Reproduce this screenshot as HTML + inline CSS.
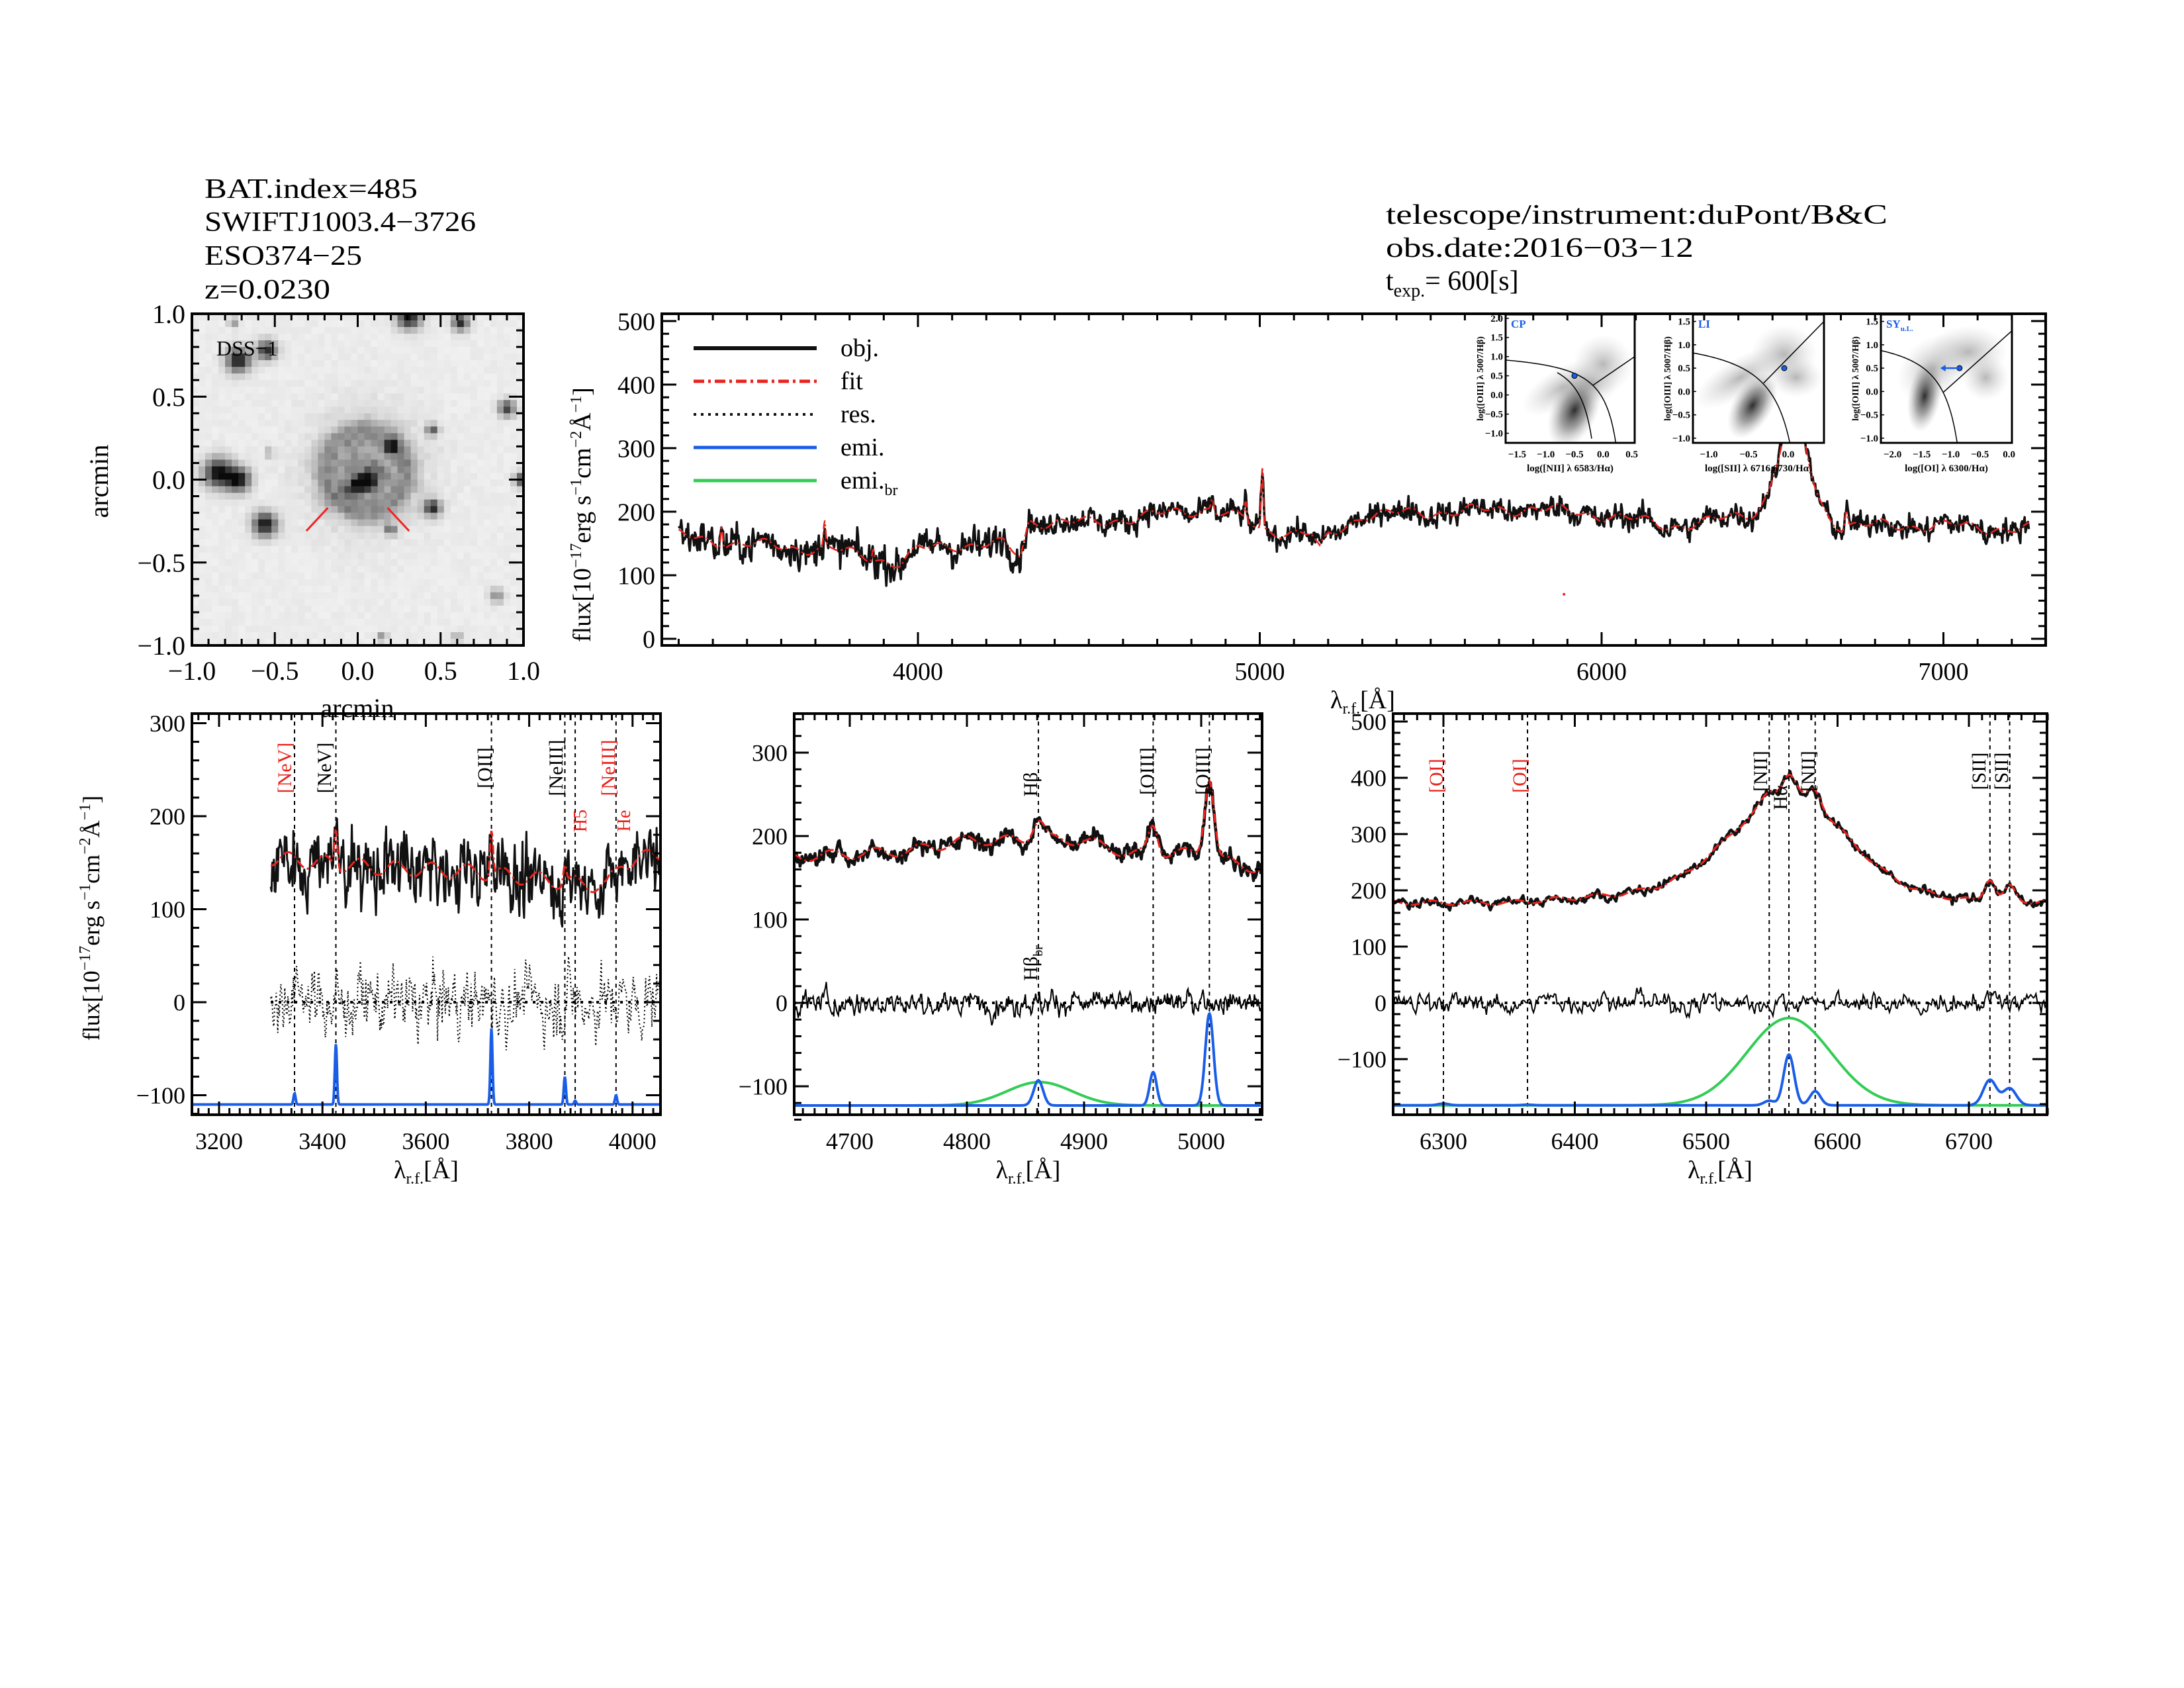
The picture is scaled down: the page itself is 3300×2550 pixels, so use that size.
<!DOCTYPE html>
<html><head><meta charset="utf-8"><style>
html,body{margin:0;padding:0;background:#fff}
svg{display:block}
text{font-family:"Liberation Serif",serif;fill:#000}
</style></head><body>
<svg id="s" xmlns="http://www.w3.org/2000/svg" width="3300" height="2550" viewBox="0 0 3300 2550">
<rect width="3300" height="2550" fill="#fff"/>
<defs>
<radialGradient id="gb"><stop offset="0" stop-color="#222" stop-opacity="0.95"/><stop offset="0.5" stop-color="#666" stop-opacity="0.6"/><stop offset="1" stop-color="#aaa" stop-opacity="0"/></radialGradient>
<radialGradient id="gl"><stop offset="0" stop-color="#999" stop-opacity="0.7"/><stop offset="1" stop-color="#ccc" stop-opacity="0"/></radialGradient>
<clipPath id="cm"><rect x="1000" y="474" width="2091" height="501"/></clipPath>
<clipPath id="c1"><rect x="290" y="1078" width="708" height="606"/></clipPath>
<clipPath id="c2"><rect x="1200" y="1078" width="707" height="606"/></clipPath>
<clipPath id="c3"><rect x="2105" y="1078" width="988" height="606"/></clipPath>
<clipPath id="ci1"><rect x="2275" y="475" width="195" height="194"/></clipPath>
<clipPath id="ci2"><rect x="2558" y="475" width="198" height="194"/></clipPath>
<clipPath id="ci3"><rect x="2842" y="475" width="198" height="194"/></clipPath>
</defs>
<g font-size="42">
<text x="309" y="299" textLength="322" lengthAdjust="spacingAndGlyphs">BAT.index=485</text>
<text x="309" y="349" textLength="410" lengthAdjust="spacingAndGlyphs">SWIFTJ1003.4−3726</text>
<text x="309" y="400" textLength="238" lengthAdjust="spacingAndGlyphs">ESO374−25</text>
<text x="309" y="451" textLength="190" lengthAdjust="spacingAndGlyphs">z=0.0230</text>
<text x="2094" y="338" textLength="758" lengthAdjust="spacingAndGlyphs">telescope/instrument:duPont/B&amp;C</text>
<text x="2094" y="388" textLength="465" lengthAdjust="spacingAndGlyphs">obs.date:2016−03−12</text>
<text x="2094" y="438">t<tspan font-size="28" dy="10">exp.</tspan><tspan dy="-10">=  600[s]</tspan></text>
</g>
<g id="dss"></g>
<g id="main"></g>
<g id="p1"></g><g id="p2"></g><g id="p3"></g>
</svg>
<script>
const NS='http://www.w3.org/2000/svg';
function el(tag,a,p){const e=document.createElementNS(NS,tag);for(const k in a)e.setAttribute(k,a[k]);(p||document.getElementById('s')).appendChild(e);return e;}
function txt(s,a,p){const e=el('text',a,p);e.textContent=s;return e;}
let seed=12345;function rnd(){seed=(seed*1103515245+12345)%2147483648;return seed/2147483648;}
function gauss(){let u=0;for(let i=0;i<4;i++)u+=rnd();return (u-2)*1.7;}
function G(x,m,s){return Math.exp(-0.5*((x-m)/s)**2);}
function pl(pts,x){if(x<=pts[0][0])return pts[0][1];for(let i=1;i<pts.length;i++){if(x<=pts[i][0]){const a=pts[i-1],b=pts[i];return a[1]+(b[1]-a[1])*(x-a[0])/(b[0]-a[0]);}}return pts[pts.length-1][1];}
function pathD(xs,ys){let d='';for(let i=0;i<xs.length;i++)d+=(i?'L':'M')+xs[i].toFixed(1)+' '+ys[i].toFixed(1);return d;}
function axes(g,x0,y0,x1,y1,xm,ym,xt,xmin,xr,yt,ymin,yr,fs,xlab){
  el('rect',{x:x0,y:y0,width:x1-x0,height:y1-y0,fill:'none',stroke:'#000','stroke-width':4},g);
  for(let v=Math.ceil(xr[0]/xmin)*xmin;v<=xr[1];v+=xmin){const X=xm(v);const maj=xt.some(t=>Math.abs(t-v)<1e-6);const L=maj?20:10;
    el('line',{x1:X,y1:y1,x2:X,y2:y1-L,stroke:'#000','stroke-width':3},g);el('line',{x1:X,y1:y0,x2:X,y2:y0+L,stroke:'#000','stroke-width':3},g);}
  for(let v=Math.ceil(yr[0]/ymin)*ymin;v<=yr[1];v+=ymin){const Y=ym(v);const maj=yt.some(t=>Math.abs(t-v)<1e-6);const L=maj?22:11;
    el('line',{x1:x0,y1:Y,x2:x0+L,y2:Y,stroke:'#000','stroke-width':3},g);el('line',{x1:x1,y1:Y,x2:x1-L,y2:Y,stroke:'#000','stroke-width':3},g);}
  if(xlab!==false)xt.forEach(t=>txt(String(t).replace('-','−'),{x:xm(t),y:y1+52,'text-anchor':'middle','font-size':fs},g));
  yt.forEach(t=>txt(String(t).replace('-','−'),{x:x0-10,y:ym(t)+fs*0.35,'text-anchor':'end','font-size':fs},g));
}
/* ---------- DSS ---------- */
(function(){const g=document.getElementById('dss');
 const px=a=>540.5+a*250.5, py=b=>724.5-b*250.5;
 const stars=[[-0.72,0.72,0.05,0.9],[-0.55,0.78,0.04,0.8],[-0.84,0.04,0.06,0.95],[-0.72,0.0,0.05,0.9],[-0.56,-0.27,0.05,0.9],[0.45,-0.17,0.035,0.8],[0.9,0.43,0.035,0.7],[0.45,0.3,0.025,0.6],[0.31,0.98,0.05,0.9],[0.62,0.95,0.035,0.8],[0.2,0.2,0.03,0.7],[0.99,0.0,0.03,0.7],[0.84,-0.7,0.03,0.4],[-0.53,0.16,0.02,0.3],[0.2,-0.3,0.025,0.5],[0.6,-0.95,0.02,0.35],[-0.75,0.95,0.02,0.4],[0.15,-0.95,0.02,0.4]];
 const N=50,cs=501/N;
 for(let i=0;i<N;i++)for(let j=0;j<N;j++){
  const a=-1+(i+0.5)*2/N, b=1-(j+0.5)*2/N;
  let d=0.06+0.035*rnd();
  const r=Math.hypot(a-0.05,b-0.05);
  d+=0.28*Math.exp(-r*r/0.06);
  d+=0.25*Math.exp(-((r-0.25)**2)/0.004);
  const ea=(a-0.03)*Math.cos(0.5)+(b+0.02)*Math.sin(0.5), eb=-(a-0.03)*Math.sin(0.5)+(b+0.02)*Math.cos(0.5);
  d+=0.75*Math.exp(-(ea*ea/0.012+eb*eb/0.003));
  d+=0.2*rnd()*Math.exp(-r*r/0.12);
  stars.forEach(s=>{d+=s[3]*Math.exp(-((a-s[0])**2+(b-s[1])**2)/(2*s[2]*s[2]))});
  d=Math.min(1,d);const c=Math.round(245*(1-d)+10);
  el('rect',{x:(290+i*cs).toFixed(1),y:(474+j*cs).toFixed(1),width:cs+0.6,height:cs+0.6,fill:`rgb(${c},${c},${c})`},g);
 }
 el('line',{x1:px(-0.18),y1:py(-0.17),x2:px(-0.31),y2:py(-0.31),stroke:'#e22','stroke-width':3},g);
 el('line',{x1:px(0.18),y1:py(-0.17),x2:px(0.31),y2:py(-0.31),stroke:'#e22','stroke-width':3},g);
 txt('DSS−1',{x:327,y:537,'font-size':32},g);
 axes(g,290,474,791,975,px,py,[-1,-0.5,0,0.5,1],0.1,[-1.02,1.02],[-1,-0.5,0,0.5,1],0.1,[-1.02,1.02],40);
 g.querySelectorAll('text').forEach(t=>{const v=t.textContent;if(/^[−\d.]+$/.test(v)&&v.length<3){t.textContent=(v==='0'?'0.0':v==='1'?'1.0':v==='−1'?'−1.0':v);}});
 txt('arcmin',{x:540,y:1083,'text-anchor':'middle','font-size':40},g);
 txt('arcmin',{x:0,y:0,'text-anchor':'middle','font-size':40,transform:'translate(163,727) rotate(-90)'},g);
})();
/* ---------- main spectrum ---------- */
(function(){const g=document.getElementById('main');
 const xm=l=>1387+(l-4000)*0.5165, ym=v=>965-v*0.96;
 const cont=[[3300,162],[3450,150],[3600,145],[3750,140],[3850,130],[3950,118],[4000,140],[4100,148],[4250,148],[4300,130],[4325,185],[4500,182],[4700,195],[4850,205],[4950,188],[5000,172],[5150,165],[5175,138],[5200,160],[5300,195],[5800,205],[6000,195],[6200,178],[6300,182],[6450,200],[6500,215],[6650,195],[6700,178],[7000,178],[7250,172]];
 const em=l=>150*G(l,6563,38)+60*G(l,6563,5)+40*G(l,3727,3)+35*G(l,3426,3)+95*G(l,5007,3)+30*G(l,4959,3)+20*G(l,4861,4)+30*G(l,6583,4)+25*G(l,6716,4)+20*G(l,3869,3);
 const xs=[],yo=[],yf=[];let n=0;
 for(let l=3300;l<=7250;l+=2.5){const f=pl(cont,l)+em(l)+6*Math.sin(l/37)+5*Math.sin(l/13.7);n=0.3*n+gauss()*(l<4300?13:9);xs.push(xm(l));yf.push(ym(f));yo.push(ym(f+n));}
 const cg=el('g',{'clip-path':'url(#cm)'},g);
 const insets=[[2275,2470,'CP',[-1.7,0.55],[-1.25,2.1]],[2558,2756,'LI',[-1.2,0.45],[-1.1,1.65]],[2842,3040,'SY',[-2.2,0.05],[-1.1,1.65]]];
 insets.forEach((I,k)=>{const [a,b,lab,xr,yr]=I;const ig=el('g',{},g);
  el('rect',{x:a,y:475,width:b-a,height:194,fill:'#fff'},ig);
  const cl=el('g',{'clip-path':`url(#ci${k+1})`},ig);
  const X=v=>a+(v-xr[0])/(xr[1]-xr[0])*(b-a), Y=v=>669-(v-yr[0])/(yr[1]-yr[0])*194;
  const blobs=k===0?[[-0.7,0.2,70,30,-30,'gl'],[0.0,0.8,45,45,0,'gl'],[-0.2,0.3,40,30,0,'gl'],[-0.5,-0.4,60,35,-65,'gb']]:k===1?[[-0.6,0.3,80,30,-30,'gl'],[-0.05,0.8,50,45,0,'gl'],[0.1,0.3,40,30,0,'gl'],[-0.45,-0.3,55,30,-60,'gb']]:[[-1.3,0.5,60,45,-40,'gl'],[-0.7,0.85,60,40,0,'gl'],[-0.4,0.3,35,35,0,'gl'],[-1.45,-0.1,55,25,-80,'gb']];
  blobs.forEach(B=>{el('ellipse',{cx:X(B[0]),cy:Y(B[1]),rx:B[2],ry:B[3],fill:`url(#${B[5]})`,transform:`rotate(${B[4]} ${X(B[0])} ${Y(B[1])})`},cl);});
  let d='';const pts=[];
  if(k===0){for(let v=-1.7;v<0.45;v+=0.02){const y=0.61/(v-0.47)+1.19;if(y<-1.3)break;pts.push([X(v),Y(y)]);}
    let d2='';for(let v=-0.8;v<0.03;v+=0.02){const y=0.61/(v-0.05)+1.3;if(y<-1.3)break;d2+=(d2?'L':'M')+X(v)+' '+Y(y);}el('path',{d:d2,fill:'none',stroke:'#000','stroke-width':1.5},cl);
    el('line',{x1:X(-0.18),y1:Y(0.25),x2:X(0.55),y2:Y(1.0),stroke:'#000','stroke-width':1.5},cl);}
  if(k===1){for(let v=-1.2;v<0.3;v+=0.02){const y=0.72/(v-0.32)+1.3;if(y<-1.3)break;pts.push([X(v),Y(y)]);}
    el('line',{x1:X(-0.31),y1:Y(0.18),x2:X(0.45),y2:Y(1.5),stroke:'#000','stroke-width':1.5},cl);}
  if(k===2){for(let v=-2.2;v<-0.6;v+=0.02){const y=0.73/(v+0.59)+1.33;if(y<-1.3)break;pts.push([X(v),Y(y)]);}
    el('line',{x1:X(-1.13),y1:Y(-0.02),x2:X(0.05),y2:Y(1.3),stroke:'#000','stroke-width':1.5},cl);}
  pts.forEach((p,i)=>d+=(i?'L':'M')+p[0].toFixed(1)+' '+p[1].toFixed(1));el('path',{d:d,fill:'none',stroke:'#000','stroke-width':1.5},cl);
  const dot=k===0?[-0.5,0.5]:k===1?[-0.05,0.5]:[-0.85,0.5];
  el('circle',{cx:X(dot[0]),cy:Y(dot[1]),r:4,fill:'#1a5ee8',stroke:'#000','stroke-width':1},ig);
  if(k===2){el('line',{x1:X(-0.85),y1:Y(0.5),x2:X(-1.15),y2:Y(0.5),stroke:'#1a5ee8','stroke-width':2.5},ig);el('path',{d:`M${X(-1.18)} ${Y(0.5)} l8 -5 l0 10z`,fill:'#1a5ee8'},ig);}
  el('rect',{x:a,y:475,width:b-a,height:194,fill:'none',stroke:'#000','stroke-width':3},ig);
  const lt=txt(lab,{x:a+8,y:495,'font-size':17,'font-weight':'bold',style:'fill:#1a5ee8'},ig);
  if(k===2)lt.innerHTML='SY<tspan font-size="11" dy="5">u.L.</tspan>';
  const step=0.5;for(let v=Math.ceil(yr[0]*2)/2;v<=yr[1];v+=step){txt(v.toFixed(1).replace('-','−'),{x:a-4,y:Y(v)+5,'text-anchor':'end','font-size':15,'font-weight':'bold'},ig);el('line',{x1:a,y1:Y(v),x2:a+5,y2:Y(v),stroke:'#000','stroke-width':1.5},ig);}
  for(let v=Math.ceil(xr[0]*2)/2;v<=xr[1]+0.01;v+=0.5){txt(v.toFixed(1).replace('-','−'),{x:X(v),y:691,'text-anchor':'middle','font-size':15,'font-weight':'bold'},ig);}
  const xl=['log([NII] λ 6583/Hα)','log([SII] λ 6716,6730/Hα)','log([OI] λ 6300/Hα)'][k];
  txt(xl,{x:(a+b)/2,y:712,'text-anchor':'middle','font-size':15,'font-weight':'bold'},ig);
  txt('log([OIII] λ 5007/Hβ)',{x:0,y:0,'text-anchor':'middle','font-size':14,'font-weight':'bold',transform:`translate(${a-34},572) rotate(-90)`},ig);
 });
 el('path',{d:pathD(xs,yo),fill:'none',stroke:'#111','stroke-width':3.5,'stroke-linejoin':'round'},cg);
 el('path',{d:pathD(xs,yf),fill:'none',stroke:'#e8231d','stroke-width':2.5,'stroke-dasharray':'14 5 3 5'},cg);
 el('circle',{cx:xm(5890),cy:ym(70),r:2,fill:'#e8231d'},cg);
 axes(g,1000,474,3091,975,xm,ym,[4000,5000,6000,7000],100,[3251,7299],[0,100,200,300,400,500],20,[0,510],38);
 txt('flux[10',{x:0,y:0,'font-size':38,transform:'translate(892,970) rotate(-90)'},g).innerHTML='flux[10<tspan font-size="24" dy="-14">−17</tspan><tspan dy="14">erg  s</tspan><tspan font-size="24" dy="-14">−1</tspan><tspan dy="14">cm</tspan><tspan font-size="24" dy="-14">−2</tspan><tspan dy="14">Å</tspan><tspan font-size="24" dy="-14">−1</tspan><tspan dy="14">]</tspan>';
 txt('',{x:2010,y:1070,'font-size':38},g).innerHTML='λ<tspan font-size="24" dy="8">r.f.</tspan><tspan dy="-8">[Å]</tspan>';
 const L=[['obj.','#111',6,null],['fit','#e8231d',5,'16 6 4 6'],['res.','#111',4,'4 7'],['emi.','#1a5ee8',5,null],['emi.','#33cc55',5,null]];
 L.forEach((r,i)=>{const y=526+i*50;el('line',{x1:1048,y1:y,x2:1234,y2:y,stroke:r[1],'stroke-width':r[2],'stroke-dasharray':r[3]||'none'},g);const t=txt(r[0],{x:1270,y:y+12,'font-size':38},g);if(i===4)t.innerHTML='emi.<tspan font-size="24" dy="10">br</tspan>';});
})();
/* ---------- bottom panels ---------- */
function panel(id,clip,x0,x1,xm,ym,xr,yr,xt,yt,ymin,base,contF,lines,blue,green,lab,resAmp,noiseAmp,lstart,lend,dotted){
 const g=document.getElementById(id);const cg=el('g',{'clip-path':`url(#${clip})`},g);
 lines.forEach(L=>el('line',{x1:xm(L),y1:1078,x2:xm(L),y2:1684,stroke:'#000','stroke-width':2,'stroke-dasharray':'6 6'},cg));
 const xs=[],yo=[],yf=[],yr2=[];let n=0,r=0;
 for(let l=lstart;l<=lend;l+=(lend-lstart)/500){const f=contF(l);n=0.4*n+gauss()*noiseAmp;xs.push(xm(l));yf.push(ym(f));yo.push(ym(f+n));r=0.6*r+gauss()*resAmp;yr2.push(ym(r+n*0.4));}
 el('line',{x1:xm(lstart),y1:ym(0),x2:x1,y2:ym(0),stroke:'#000','stroke-width':4,'stroke-dasharray':'4 8'},cg);
 el('path',{d:pathD(xs,yr2),fill:'none',stroke:'#000','stroke-width':2,'stroke-dasharray':dotted?'2 4':'none'},cg);
 const bx=[],by=[],gy=[];for(let l=xr[0];l<=xr[1];l+=(xr[1]-xr[0])/900){bx.push(xm(l));let v=base;blue.forEach(b=>v+=b[1]*G(l,b[0],b[2]));by.push(ym(v));let w=base;green.forEach(b=>w+=b[1]*G(l,b[0],b[2]));gy.push(ym(w));}
 if(green.length)el('path',{d:pathD(bx,gy),fill:'none',stroke:'#33cc55','stroke-width':4},cg);
 el('path',{d:pathD(bx,by),fill:'none',stroke:'#1a5ee8','stroke-width':4},cg);
 el('path',{d:pathD(xs,yo),fill:'none',stroke:'#111','stroke-width':id==='p1'?3:4.5,'stroke-linejoin':'round'},cg);
 el('path',{d:pathD(xs,yf),fill:'none',stroke:'#e8231d','stroke-width':3,'stroke-dasharray':'14 5 3 5'},cg);
 axes(g,x0,1078,x1,1684,xm,ym,xt,xt[1]-xt[0]>150?20:10,xr,yt,ymin,yr,36);
 lab.forEach(t=>{const e=txt('',{x:0,y:0,'font-size':t[3]||30,style:`fill:${t[2]}`,transform:`translate(${t[0]},${t[1]}) rotate(-90)`,'text-anchor':'middle'},g);e.innerHTML=t[4];});
 txt('',{x:(x0+x1)/2,y:1780,'text-anchor':'middle','font-size':38},g).innerHTML='λ<tspan font-size="24" dy="8">r.f.</tspan><tspan dy="-8">[Å]</tspan>';
}
(function(){
 const xm=l=>331+(l-3200)*0.781, ym=v=>1514-v*1.405;
 const cf=l=>pl([[3300,155],[3500,145],[3700,140],[3850,130],[3950,125],[3980,150],[4060,160]],l)+50*G(l,3727,3)+40*G(l,3426,3)+20*G(l,3869,3)+8*Math.sin(l/11);
 panel('p1','c1',290,998,xm,ym,[3148,4054],[-120,313],[3200,3400,3600,3800,4000],[-100,0,100,200,300],20,-110,cf,[3346,3426,3727,3869,3889,3968],
 [[3346,12,2],[3426,65,2],[3727,82,2],[3869,30,2],[3889,4,2],[3968,10,2]],[],
 [[440,1160,'#e8231d',30,'[NeV]'],[500,1160,'#000',30,'[NeV]'],[742,1160,'#000',30,'[OII]'],[850,1160,'#000',30,'[NeIII]'],[929,1160,'#e8231d',30,'[NeIII]'],[886,1240,'#e8231d',28,'H5'],[952,1240,'#e8231d',28,'He']],14,18,3300,4054,true);
 const f=document.getElementById('p1');
 txt('',{x:0,y:0,'font-size':36,transform:'translate(150,1387) rotate(-90)','text-anchor':'middle'},f).innerHTML='flux[10<tspan font-size="24" dy="-14">−17</tspan><tspan dy="14">erg  s</tspan><tspan font-size="24" dy="-14">−1</tspan><tspan dy="14">cm</tspan><tspan font-size="24" dy="-14">−2</tspan><tspan dy="14">Å</tspan><tspan font-size="24" dy="-14">−1</tspan><tspan dy="14">]</tspan>';
})();
(function(){
 const xm=l=>1284+(l-4700)*1.77, ym=v=>1515-v*1.26;
 const cf=l=>pl([[4652,175],[4750,182],[4800,195],[4900,195],[4940,178],[5000,180],[5020,170],[5051,160]],l)+25*G(l,4861,5)+35*G(l,4959,4)+95*G(l,5007,4)+6*Math.sin(l/6);
 panel('p2','c2',1200,1907,xm,ym,[4652,5051],[-140,345],[4700,4800,4900,5000],[-100,0,100,200,300],20,-123,cf,[4861,4959,5007],
 [[4861,30,4],[4959,40,3],[5007,110,3.5]],[[4862,28,28]],
 [[1567,1185,'#000',30,'Hβ'],[1743,1165,'#000',30,'[OIII]'],[1827,1165,'#000',30,'[OIII]'],[1567,1455,'#000',30,'Hβ<tspan font-size="20" dy="8">br</tspan>']],6,5,4652,5051,false);
})();
(function(){
 const xm=l=>2181+(l-6300)*1.985, ym=v=>1515-v*0.85;
 const cf=l=>pl([[6262,178],[6350,178],[6450,195],[6500,205],[6620,200],[6700,182],[6760,180]],l)+165*G(l,6563,42)+40*G(l,6563,5)+30*G(l,6583,5)+15*G(l,6548,5)+40*G(l,6716,4)+25*G(l,6731,4)+4*Math.sin(l/5);
 panel('p3','c3',2105,3093,xm,ym,[6262,6760],[-190,514],[6300,6400,6500,6600,6700],[-100,0,100,200,300,400,500],20,-182,cf,[6300,6364,6548,6563,6583,6716,6731],
 [[6300,3,4],[6364,1,4],[6548,8,4],[6563,90,4],[6583,25,4],[6716,45,5],[6731,30,5]],[[6563,155,32]],
 [[2180,1172,'#e8231d',30,'[OI]'],[2306,1172,'#e8231d',30,'[OI]'],[2670,1165,'#000',30,'[NII]'],[2700,1205,'#000',30,'Hα'],[2742,1165,'#000',30,'[NII]'],[3000,1165,'#000',30,'[SII]'],[3034,1165,'#000',30,'[SII]']],8,4,6262,6760,false);
})();
</script>
</body></html>
